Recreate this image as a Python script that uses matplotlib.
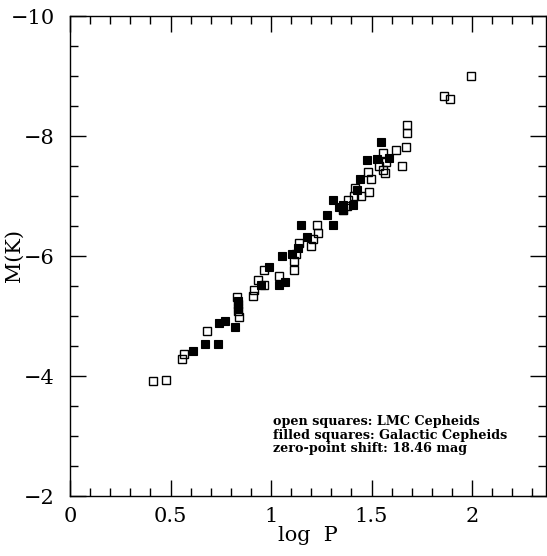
"""
Cepheid period-luminosity relation in K, LMC vs Galactic.
"""

import matplotlib
matplotlib.use('Agg')
import matplotlib.pyplot as plt
from matplotlib.ticker import MultipleLocator

# open squares: LMC Cepheids (log P, M(K))
logp_lmc = [0.415, 0.478, 0.556, 0.567, 0.68, 0.83, 0.835, 0.835, 0.84,
            0.912, 0.917, 0.937, 0.965, 0.966, 1.04, 1.114, 1.114, 1.124,
            1.138, 1.20, 1.207, 1.227, 1.234, 1.36, 1.38, 1.385, 1.413,
            1.418, 1.45, 1.489, 1.481, 1.499, 1.539, 1.556, 1.559, 1.567,
            1.572, 1.62, 1.65, 1.672, 1.678, 1.678, 1.862, 1.89, 1.995]
mk_lmc = [-3.92, -3.94, -4.29, -4.37, -4.75, -5.32, -5.20, -5.08, -4.99,
          -5.33, -5.43, -5.60, -5.52, -5.76, -5.67, -5.77, -5.92, -6.04,
          -6.21, -6.16, -6.29, -6.52, -6.39, -6.76, -6.83, -6.94, -7.00,
          -7.13, -7.00, -7.07, -7.40, -7.28, -7.50, -7.43, -7.71, -7.39,
          -7.56, -7.77, -7.50, -7.81, -8.05, -8.18, -8.66, -8.62, -9.00]

# filled squares: Galactic Cepheids
logp_gal = [0.61, 0.67, 0.735, 0.74, 0.773, 0.823, 0.835, 0.835, 0.948,
            0.99, 1.04, 1.07, 1.053, 1.103, 1.136, 1.149, 1.177, 1.277,
            1.307, 1.307, 1.338, 1.357, 1.36, 1.41, 1.426, 1.443, 1.476,
            1.529, 1.589, 1.546]
mk_gal = [-4.41, -4.54, -4.54, -4.88, -4.92, -4.82, -5.25, -5.13, -5.52,
          -5.81, -5.51, -5.57, -6.00, -6.03, -6.13, -6.51, -6.32, -6.68,
          -6.52, -6.94, -6.82, -6.77, -6.85, -6.85, -7.10, -7.29, -7.60,
          -7.61, -7.63, -7.90]

note_lines = ['open squares: LMC Cepheids',
              'filled squares: Galactic Cepheids',
              'zero-point shift: 18.46 mag']

plt.rcParams['font.family'] = ['DejaVu Serif']
plt.rcParams['mathtext.default'] = 'regular'

fig = plt.figure(figsize=(5.47, 5.56), dpi=100)
ax = fig.add_axes([70/547, 1 - 496/556, 476/547, 480/556])

ax.plot(logp_gal, mk_gal, ls='none', marker='s', ms=5.6, mfc='k', mec='k',
        mew=0.8)
ax.plot(logp_lmc, mk_lmc, ls='none', marker='s', ms=5.6, mfc='none', mec='k',
        mew=1.0)

ax.set_xlim(0, 476/201)
ax.set_ylim(-2, -10)

ax.xaxis.set_major_locator(MultipleLocator(0.5))
ax.xaxis.set_minor_locator(MultipleLocator(0.1))
ax.yaxis.set_major_locator(MultipleLocator(2))
ax.yaxis.set_minor_locator(MultipleLocator(0.5))
ax.set_xticks([0, 0.5, 1, 1.5, 2])
ax.set_xticklabels(['0', '0.5', '1', '1.5', '2'])

ax.tick_params(which='both', direction='in', top=True, right=True,
               width=1.0, labelsize=15)
ax.tick_params(which='major', length=11.5)
ax.tick_params(which='minor', length=5.5)
ax.tick_params(axis='x', pad=8)
ax.tick_params(axis='y', pad=11)
for sp in ax.spines.values():
    sp.set_linewidth(1.0)

ax.set_xlabel('log  P', fontsize=15, labelpad=0)
ax.set_ylabel('M(K)', fontsize=15)
ax.yaxis.set_label_coords(-0.098, 0.5)

ax.text(0.427, 0.168, '\n'.join(note_lines), transform=ax.transAxes,
        fontsize=9.2, fontweight='bold', va='top', ha='left',
        linespacing=1.02)

plt.savefig('out.png', dpi=100)
